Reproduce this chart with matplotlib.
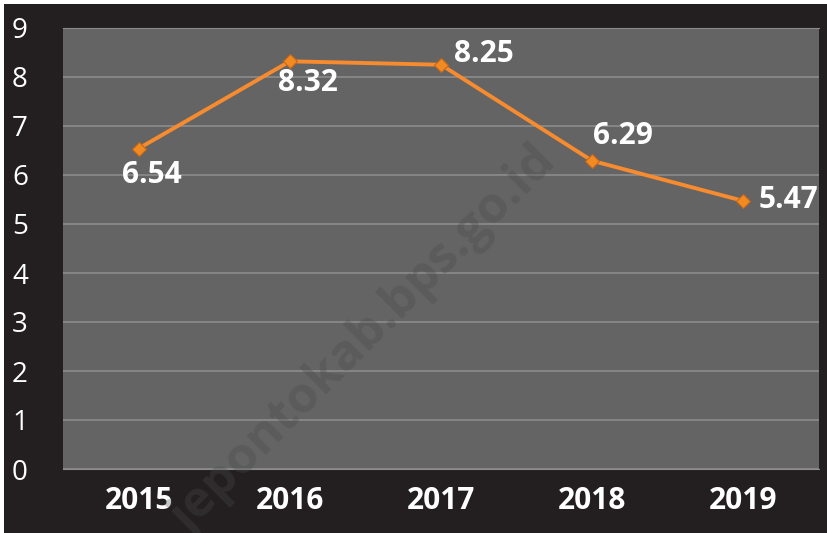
import matplotlib.pyplot as plt
from matplotlib.patches import Rectangle

years = ["2015", "2016", "2017", "2018", "2019"]
values = [6.54, 8.32, 8.25, 6.29, 5.47]
labels = ["6.54", "8.32", "8.25", "6.29", "5.47"]
# label offsets in pixels (dx, dy) relative to each point
offsets = [(13, -26), (18, -22), (43, 11), (31, 25), (45, 1)]

plt.rcParams['font.family'] = ['Open Sans', 'DejaVu Sans']

fig = plt.figure(figsize=(8.28, 5.33), dpi=100, facecolor="white")
fig.patches.append(Rectangle((4 / 828, 0), 1, (533 - 4) / 533, transform=fig.transFigure,
                             facecolor="#231f20", edgecolor="none", zorder=-10))

ax = fig.add_axes([63 / 828, 64 / 533, 756 / 828, 441 / 533])
ax.set_facecolor("#646464")

x = list(range(len(years)))
ax.plot(x, values, color="#f68b2f", lw=2.8, marker="D", ms=7,
        mfc="#f28a22", mec="#c8661a", mew=0.8, zorder=3)

for i in x:
    ax.annotate(labels[i], (x[i], values[i]), xytext=offsets[i], textcoords="offset pixels",
                ha="center", va="center", color="white", fontsize=21.5, fontweight="bold", zorder=4)

ax.set_xlim(-0.5, 4.5)
ax.set_ylim(0, 9)
ax.set_yticks(range(0, 10))
ax.set_xticks(x)
ax.set_xticklabels(years, fontsize=21.5, fontweight="bold", color="white")
ax.tick_params(axis="y", labelsize=20, labelcolor="white", length=0, pad=31)
ax.tick_params(axis="x", length=0, pad=12)
for lab in ax.get_yticklabels():
    lab.set_horizontalalignment("center")
ax.grid(axis="y", color="#8c8c8c", lw=1.2)
ax.set_axisbelow(True)
for s in ["left", "right"]:
    ax.spines[s].set_visible(False)
ax.spines["top"].set_color("#8c8c8c")
ax.spines["bottom"].set_color("#8c8c8c")

# watermark
fig.text(0.44, 0.36, "jepontokab.bps.go.id", rotation=45, fontsize=36, fontweight="bold",
         color="#4a4a4a", alpha=0.32, ha="center", va="center", zorder=10)

fig.savefig("out.png", dpi=100)
